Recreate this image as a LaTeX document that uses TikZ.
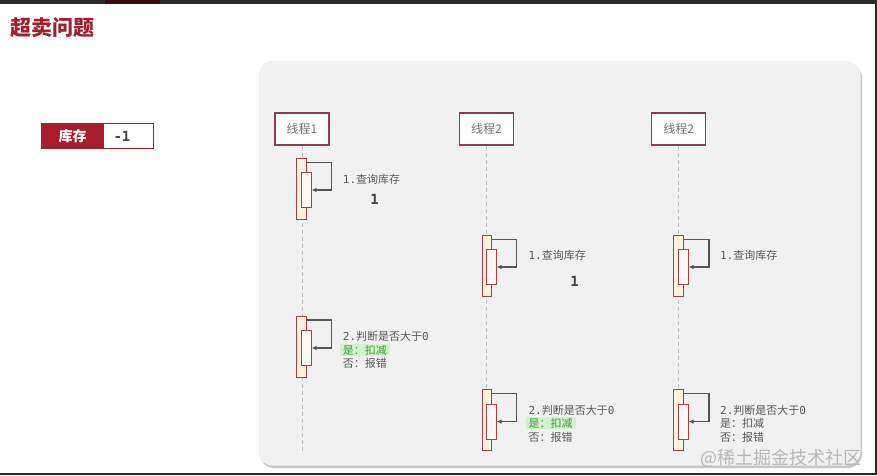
\documentclass[tikz,border=0pt]{standalone}
\usepackage{fontspec}
\setmainfont{Noto Sans CJK SC}
\setmonofont{DejaVu Sans Mono}
\usepackage{tikz}
\usetikzlibrary{arrows.meta,positioning,shadows}
\definecolor{titlered}{HTML}{A11E2D}
\definecolor{stockred}{HTML}{A61E2C}
\definecolor{headred}{HTML}{8C3F50}
\definecolor{actred}{HTML}{B03A48}
\definecolor{actcream}{HTML}{FFF3DC}
\definecolor{actwhite}{HTML}{FFF9F3}
\definecolor{panelgray}{HTML}{F1F1F1}
\definecolor{lifegray}{HTML}{BDBDBD}
\definecolor{arrgray}{HTML}{555555}
\definecolor{txtgray}{HTML}{595959}
\definecolor{numgray}{HTML}{444444}
\definecolor{hlgreen}{HTML}{D3F0CF}
\definecolor{okgreen}{HTML}{3E9E3E}
\definecolor{framedark}{HTML}{2B2B2B}
\definecolor{topred}{HTML}{3A0C12}

\begin{document}
\begin{tikzpicture}[x=1pt, y=-1pt,
  threadbox/.style={draw=headred, line width=1.2pt, fill=white,
    minimum width=54pt, minimum height=32pt, inner sep=0pt,
    font=\fontsize{12}{14}\selectfont, text=txtgray!85},
  actouter/.style={draw=actred, line width=1pt, fill=actcream,
    minimum width=9.5pt, minimum height=61pt, inner sep=0pt},
  actinner/.style={draw=actred, line width=1pt, fill=actwhite,
    minimum width=9.5pt, minimum height=35pt, inner sep=0pt},
  lifeline/.style={draw=lifegray, line width=0.9pt, dash pattern=on 4pt off 3pt},
  selfcall/.style={draw=arrgray, line width=1.1pt, -{Latex[length=5pt,width=4.5pt]}},
  msgtext/.style={anchor=west, inner sep=0pt, font=\fontsize{11}{13}\selectfont, text=txtgray},
  yestext/.style={msgtext, fill=hlgreen, text=okgreen, inner xsep=3pt, inner ysep=1pt},
  countnum/.style={inner sep=0pt, font=\fontsize{14}{16}\selectfont\ttfamily\bfseries, text=numgray},
  stocklbl/.style={draw=stockred, line width=1.5pt, fill=stockred, text=white, outer sep=0pt,
    minimum width=62pt, minimum height=25pt, inner sep=0pt, font=\fontsize{14}{16}\selectfont\bfseries},
  stockval/.style={draw=stockred, line width=1.5pt, fill=white, text=numgray, outer sep=0pt,
    text width=30pt, align=left, inner xsep=10pt, minimum height=25pt, inner ysep=0pt,
    font=\fontsize{14}{16}\selectfont\ttfamily\bfseries}
]
  \useasboundingbox (0,0) rectangle (877,475);
  \fill[white] (0,0) rectangle (877,475);

  % Screen frame
  \fill[framedark] (0,0) rectangle (877,3.5);
  \fill[topred] (105,0) rectangle (160,3.5);
  \fill[framedark] (875,0) rectangle (877,475);
  \fill[framedark] (0,473.3) rectangle (877,475);

  % Title and stock
  \node[anchor=west, inner sep=0pt, text=titlered,
    font=\fontsize{21}{24}\selectfont\bfseries] (title) at (10,28) {超卖问题};
  \node[stocklbl] (stock) at (72.5,136) {库存};
  \node[stockval, right=0pt of stock] (stockv) {-1};

  % Panel
  \path[fill=panelgray, rounded corners=14pt,
    drop shadow={shadow xshift=1.5pt, shadow yshift=-2.5pt, fill=black, opacity=0.22}]
    (258.5,61) rectangle (860.5,465.5);

  % Threads
  \node[threadbox] (t1) at (302,129) {线程1};
  \node[threadbox] (t2) at (486.5,129) {线程2};
  \node[threadbox] (t3) at (678.7,129) {线程2};
  \coordinate (e1) at (302,452);
  \coordinate (e2) at (486.5,452);
  \coordinate (e3) at (678.7,452);
  \draw[lifeline] (t1.south) -- (e1);
  \draw[lifeline] (t2.south) -- (e2);
  \draw[lifeline] (t3.south) -- (e3);

  % Activations
  \node[actouter] (o11) at (301.5,189) {};
  \node[actinner] (i11) at (306.3,190) {};
  \node[actouter] (o12) at (301.5,346.5) {};
  \node[actinner] (i12) at (306.3,348) {};
  \node[actouter] (o21) at (487,266) {};
  \node[actinner] (i21) at (491.3,267) {};
  \node[actouter] (o22) at (487,420.3) {};
  \node[actinner] (i22) at (491.3,421.5) {};
  \node[actouter] (o31) at (678.7,266) {};
  \node[actinner] (i31) at (683.3,267) {};
  \node[actouter] (o32) at (678.7,420.3) {};
  \node[actinner] (i32) at (683.3,421.5) {};

  % Self calls
  \draw[selfcall] ([yshift=-4.5pt]o11.north east) -- ++(25,0) |- (i11.east);
  \draw[selfcall] ([yshift=-4.5pt]o12.north east) -- ++(25,0) |- (i12.east);
  \draw[selfcall] ([yshift=-4.5pt]o21.north east) -- ++(24,0) |- (i21.east);
  \draw[selfcall] ([yshift=-4.5pt]o22.north east) -- ++(24,0) |- (i22.east);
  \draw[selfcall] ([yshift=-4.5pt]o31.north east) -- ++(25,0) |- (i31.east);
  \draw[selfcall] ([yshift=-4.5pt]o32.north east) -- ++(25,0) |- (i32.east);

  % Messages
  \node[msgtext] (q1) at (342.7,179) {\texttt{1.}查询库存};
  \node[countnum] (c1) at (374.7,199) {1};
  \node[msgtext] (j1) at (342.7,336) {\texttt{2.}判断是否大于\texttt{0}};
  \node[yestext] (y1) at (339.7,350) {是：扣减};
  \node[msgtext] (n1) at (342.7,363.5) {否：报错};

  \node[msgtext] (q2) at (528.3,255) {\texttt{1.}查询库存};
  \node[countnum] (c2) at (574.5,281.7) {1};
  \node[msgtext] (j2) at (528.3,410.7) {\texttt{2.}判断是否大于\texttt{0}};
  \node[yestext] (y2) at (525.3,423) {是：扣减};
  \node[msgtext] (n2) at (528.3,437.3) {否：报错};

  \node[msgtext] (q3) at (720,255) {\texttt{1.}查询库存};
  \node[msgtext] (j3) at (720,410.7) {\texttt{2.}判断是否大于\texttt{0}};
  \node[msgtext] (y3) at (720,423.3) {是：扣减};
  \node[msgtext] (n3) at (720,437.3) {否：报错};

  % Watermark
  \node[anchor=east, inner sep=0pt, text=black!28,
    font=\fontsize{18}{20}\selectfont] (mark) at (862,458) {@稀土掘金技术社区};
\end{tikzpicture}
\end{document}
